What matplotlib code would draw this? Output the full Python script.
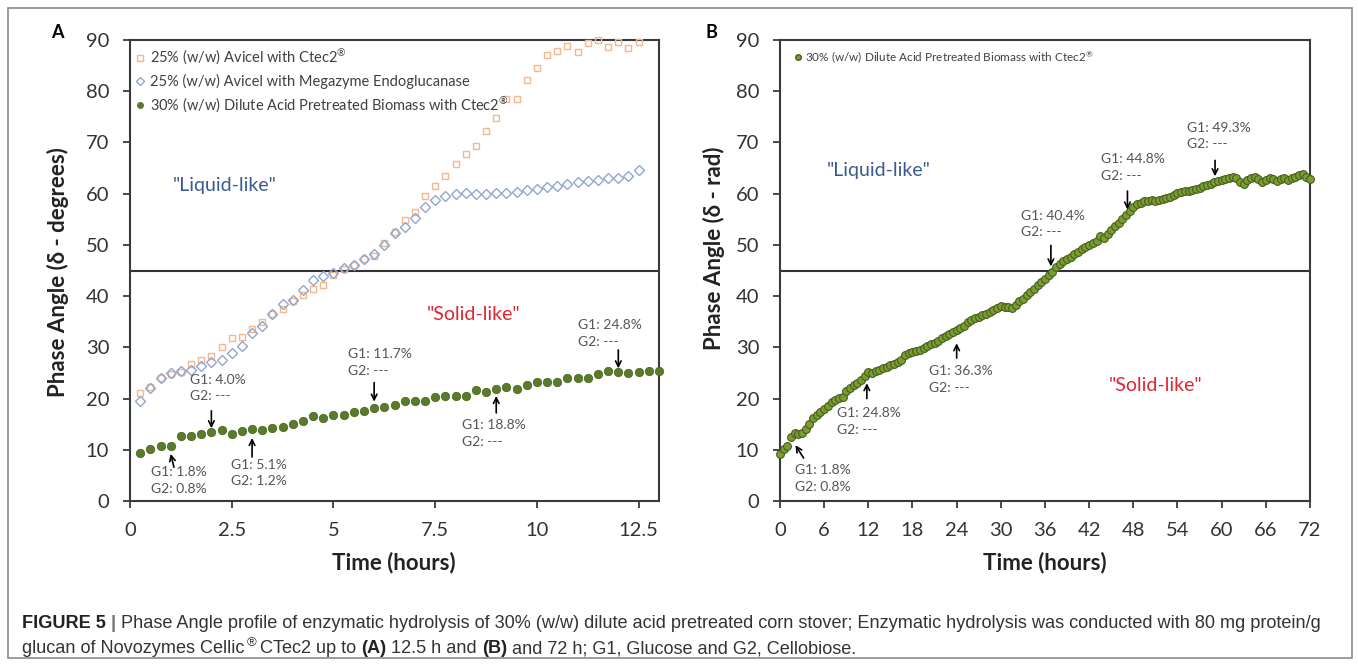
import numpy as np
import matplotlib
matplotlib.use("Agg")
import matplotlib.pyplot as plt
from matplotlib.lines import Line2D
from matplotlib.patches import Rectangle

# ---------------- data ----------------
time_a_avicel = np.arange(0.25, 12.51, 0.25)
avicel_ctec2 = [21.0, 22.3, 24.0, 24.8, 25.2, 26.7, 27.6, 28.4, 30.0, 31.8,
                32.1, 33.5, 35.0, 36.5, 37.4, 39.0, 40.2, 41.3, 42.1, 44.2,
                45.2, 46.0, 47.2, 47.8, 50.4, 52.6, 54.8, 56.4, 59.5, 61.5,
                63.5, 65.7, 67.8, 69.3, 72.2, 74.7, 78.4, 78.4, 82.1, 84.6,
                87.0, 87.8, 88.9, 87.6, 89.5, 90.0, 88.7, 89.7, 88.4, 89.7]
avicel_megazyme = [19.6, 22.1, 24.0, 25.0, 25.3, 25.5, 26.3, 27.1, 27.6, 28.8,
                   30.3, 32.8, 34.2, 36.6, 38.5, 39.2, 41.1, 43.2, 44.0, 44.5,
                   45.4, 46.1, 47.2, 48.3, 49.9, 52.4, 53.5, 55.2, 57.4, 58.8,
                   59.5, 60.0, 60.1, 60.0, 60.0, 60.1, 60.1, 60.4, 60.8, 61.0,
                   61.3, 61.5, 61.8, 62.2, 62.4, 62.7, 63.0, 63.1, 63.5, 64.7]
time_a_biomass = np.arange(0.25, 13.01, 0.25)
biomass_a = [9.3, 10.2, 10.7, 10.7, 12.7, 12.7, 13.1, 13.5, 13.8, 13.1,
             13.7, 14.0, 13.8, 14.2, 14.5, 15.1, 15.7, 16.6, 16.3, 16.8,
             16.7, 17.3, 17.6, 18.1, 18.4, 18.8, 19.5, 19.6, 19.6, 20.3,
             20.5, 20.5, 20.5, 21.6, 21.2, 21.9, 22.3, 21.8, 22.7, 23.3,
             23.3, 23.3, 24.0, 24.1, 24.1, 24.8, 25.3, 25.1, 25.0, 25.1,
             25.4, 25.4]

time_b = np.arange(0.0, 72.01, 0.5)
biomass_b = [9.2, 10.2, 10.7, 12.5, 13.2, 13.0, 13.3, 14.0, 15.0, 16.2,
             16.8, 17.3, 17.9, 18.6, 19.3, 19.8, 20.2, 20.4, 21.4, 22.0,
             22.6, 23.1, 23.7, 24.4, 25.2, 25.0, 25.3, 25.6, 25.9, 26.2,
             26.5, 26.8, 27.2, 27.6, 28.5, 28.9, 29.0, 29.3, 29.5, 29.8,
             30.2, 30.6, 30.9, 31.3, 31.8, 32.2, 32.6, 33.0, 33.3, 33.7,
             34.2, 34.9, 35.3, 35.7, 36.0, 36.3, 36.6, 36.9, 37.2, 37.7,
             38.0, 37.9, 37.8, 37.6, 38.3, 39.0, 39.5, 40.2, 40.9, 41.4,
             42.2, 42.8, 43.4, 44.1, 44.8, 45.6, 46.2, 46.8, 47.3, 47.7,
             48.2, 48.7, 49.1, 49.5, 50.0, 50.3, 50.7, 51.8, 51.3, 52.2,
             53.0, 53.7, 54.3, 55.0, 55.8, 56.6, 57.3, 57.9, 58.2, 58.5,
             58.6, 58.7, 58.6, 58.7, 58.9, 59.2, 59.4, 59.8, 60.1, 60.4,
             60.5, 60.6, 60.8, 61.0, 61.2, 61.4, 61.7, 61.9, 62.2, 62.4,
             62.6, 62.9, 63.1, 63.2, 63.0, 62.2, 61.8, 62.6, 63.1, 63.3,
             62.8, 62.3, 62.7, 63.0, 62.9, 62.5, 62.8, 63.1, 62.7, 63.0,
             63.2, 63.6, 63.8, 63.2, 62.9]

xticks_a = [0, 2.5, 5, 7.5, 10, 12.5]
xticklabels_a = ["0", "2.5", "5", "7.5", "10", "12.5"]
xticks_b = list(range(0, 73, 6))
yticks = list(range(0, 91, 10))
threshold = 45

labels_a = ["25% (w/w) Avicel with Ctec2$^{®}$",
            "25% (w/w) Avicel with Megazyme Endoglucanase",
            "30% (w/w) Dilute Acid Pretreated Biomass with Ctec2$^{®}$"]
label_b = "30% (w/w) Dilute Acid Pretreated Biomass with Ctec2$^{®}$"

# annotations: (text, text_x, text_top_y, arrow_tail, arrow_head)
notes_a = [("G1: 1.8%\nG2: 0.8%", 0.52, 6.8, (1.08, 6.6), (1.0, 9.2)),
           ("G1: 4.0%\nG2: ---", 1.47, 24.8, (2.0, 17.6), (2.0, 14.2)),
           ("G1: 5.1%\nG2: 1.2%", 2.48, 8.2, (3.0, 8.6), (3.0, 12.3)),
           ("G1: 11.7%\nG2: ---", 5.36, 29.8, (6.0, 23.1), (6.0, 19.4)),
           ("G1: 18.8%\nG2: ---", 8.16, 16.0, (9.0, 17.2), (9.0, 20.5)),
           ("G1: 24.8%\nG2: ---", 11.0, 35.5, (12.0, 29.5), (12.0, 25.9))]
notes_b = [("G1: 1.8%\nG2: 0.8%", 2.0, 7.2, (3.2, 8.4), (2.1, 10.9)),
           ("G1: 24.8%\nG2: ---", 7.7, 18.3, (11.8, 20.0), (11.8, 23.0)),
           ("G1: 36.3%\nG2: ---", 20.3, 26.5, (24.0, 27.9), (24.0, 30.8)),
           ("G1: 40.4%\nG2: ---", 32.7, 56.9, (36.8, 49.9), (36.8, 45.8)),
           ("G1: 44.8%\nG2: ---", 43.6, 67.9, (47.2, 60.5), (47.2, 56.9)),
           ("G1: 49.3%\nG2: ---", 55.3, 74.0, (59.1, 66.5), (59.1, 63.4))]

# ---------------- style ----------------
FONT = ["Lato", "DejaVu Sans"]
plt.rcParams["font.family"] = FONT
plt.rcParams["mathtext.fontset"] = "custom"
plt.rcParams["mathtext.rm"] = "Lato"
plt.rcParams["mathtext.it"] = "Lato:italic"
plt.rcParams["mathtext.bf"] = "Lato:bold"

W, H = 1358, 664
fig = plt.figure(figsize=(W / 100, H / 100), dpi=100)

SPINE = "#3a3a3a"
TXT = "#555555"
ORANGE = "#f3b78f"
BLUE = "#92a6cf"
GREEN_A = "#5a7a2c"
GREEN_B_FACE = "#7a9c32"
GREEN_B_EDGE = "#465f1b"


def px_axes(left, top, right, bottom):
    return fig.add_axes([left / W, 1 - bottom / H, (right - left) / W, (bottom - top) / H])


def style_axes(ax, xticks, xlabels):
    ax.set_ylim(0, 90)
    ax.set_yticks(yticks)
    ax.set_xticks(xticks)
    ax.set_xticklabels(xlabels)
    for s in ax.spines.values():
        s.set_color(SPINE)
        s.set_linewidth(1.5)
    ax.tick_params(direction="out", length=5, width=1.3, color=SPINE,
                   labelsize=14.5, labelcolor="#333333")
    ax.tick_params(axis="y", pad=10)
    ax.tick_params(axis="x", pad=10)
    ax.axhline(threshold, color="#333333", lw=1.5, zorder=1)


def add_notes(ax, notes):
    for txt, tx, ty, tail, head in notes:
        ax.text(tx, ty, txt, ha="left", va="top", fontsize=10, color=TXT,
                linespacing=1.45, zorder=5)
        ax.annotate("", xy=head, xytext=tail,
                    arrowprops=dict(arrowstyle="->", color="black", lw=1.2,
                                    mutation_scale=10, shrinkA=0, shrinkB=0),
                    zorder=5)


# ---------------- panel A ----------------
axA = px_axes(130, 40, 659, 501)
style_axes(axA, xticks_a, xticklabels_a)
axA.set_xlim(0, 13)
axA.plot(time_a_avicel, avicel_ctec2, ls="none", marker="s", ms=4.6, mfc="none",
         mec=ORANGE, mew=1.0, clip_on=False, zorder=3)
axA.plot(time_a_avicel, avicel_megazyme, ls="none", marker="D", ms=4.8, mfc="none",
         mec=BLUE, mew=1.0, clip_on=False, zorder=3)
axA.plot(time_a_biomass, biomass_a, ls="none", marker="o", ms=6, mfc=GREEN_A,
         mec="#4d6a22", mew=0.6, clip_on=False, zorder=4)
add_notes(axA, notes_a)
axA.text(1.05, 61.5, '"Liquid-like"', fontsize=14, color="#3b5a8f", va="center")
axA.text(7.3, 36.5, '"Solid-like"', fontsize=14, color="#e02530", va="center")

handles_a = [Line2D([], [], ls="none", marker="s", ms=4, mfc="none", mec=ORANGE, mew=1),
             Line2D([], [], ls="none", marker="D", ms=4, mfc="none", mec=BLUE, mew=1),
             Line2D([], [], ls="none", marker="o", ms=4, mfc=GREEN_A, mec=GREEN_A)]
legA = axA.legend(handles_a, labels_a, loc="upper left", bbox_to_anchor=(0.0, 0.995),
                  frameon=False, fontsize=10.5, handlelength=0.6, handletextpad=0.4,
                  labelspacing=0.45, borderaxespad=0.2, borderpad=0.2)
for t in legA.get_texts():
    t.set_color("#404040")

# ---------------- panel B ----------------
axB = px_axes(780, 40, 1310, 501)
style_axes(axB, xticks_b, [str(v) for v in xticks_b])
axB.set_xlim(0, 72)
axB.plot(time_b, biomass_b, ls="none", marker="o", ms=5.6, mfc=GREEN_B_FACE,
         mec=GREEN_B_EDGE, mew=0.8, clip_on=False, zorder=4)
add_notes(axB, notes_b)
axB.text(6.4, 64.5, '"Liquid-like"', fontsize=14, color="#3b5a8f", va="center")
axB.text(44.6, 22.5, '"Solid-like"', fontsize=14, color="#e02530", va="center")
handles_b = [Line2D([], [], ls="none", marker="o", ms=4, mfc=GREEN_B_FACE, mec=GREEN_B_EDGE)]
legB = axB.legend(handles_b, [label_b], loc="upper left", bbox_to_anchor=(0.02, 0.99),
                  frameon=False, fontsize=8.5, handlelength=0.5, handletextpad=0.3,
                  borderaxespad=0.2, borderpad=0.2)
for t in legB.get_texts():
    t.set_color("#404040")

# ---------------- labels ----------------
def ftext(x, y, s, **kw):
    return fig.text(x / W, 1 - y / H, s, **kw)

ftext(57, 33, "A", fontsize=13, fontweight="bold", ha="center", va="center")
ftext(711, 33, "B", fontsize=13, fontweight="bold", ha="center", va="center")
ftext(58, 272, "Phase Angle (δ - degrees)", fontsize=16, fontweight="bold",
      rotation=90, ha="center", va="center", color="#222222")
ftext(714, 248, "Phase Angle (δ - rad)", fontsize=16, fontweight="bold",
      rotation=90, ha="center", va="center", color="#222222")
ftext(394, 563, "Time (hours)", fontsize=16, fontweight="bold", ha="center",
      va="center", color="#222222")
ftext(1045, 563, "Time (hours)", fontsize=16, fontweight="bold", ha="center",
      va="center", color="#222222")

# outer frame
fig.patches.append(Rectangle((8 / W, 1 - 658 / H), (1352 - 8) / W, (658 - 8) / H,
                             transform=fig.transFigure, fill=False,
                             edgecolor="#8a8a8a", lw=1.2))

# ---------------- caption ----------------
CAP = ["Liberation Sans Narrow", "Liberation Sans", "DejaVu Sans"]
renderer = fig.canvas.get_renderer()


def measure(s, size, weight="normal"):
    t = fig.text(0, 0, s, fontsize=size, fontweight=weight, family=CAP)
    w = t.get_window_extent(renderer).width
    t.remove()
    return w


# (text, weight, colour, superscript)
line1 = [("FIGURE 5", "bold", "#222222", False), ("|", "bold", "#777777", False),
         ("Phase Angle profile of enzymatic hydrolysis of 30% (w/w) dilute acid pretreated "
          "corn stover; Enzymatic hydrolysis was conducted with 80 mg protein/g",
          "normal", "#333333", False)]
line2 = [("glucan of Novozymes Cellic", "normal", "#333333", False),
         ("®", "normal", "#333333", True),
         ("CTec2 up to", "normal", "#333333", False),
         ("(A)", "bold", "#222222", False),
         ("12.5 h and", "normal", "#333333", False),
         ("(B)", "bold", "#222222", False),
         ("and 72 h; G1, Glucose and G2, Cellobiose.", "normal", "#333333", False)]

base = 11.0
space = measure("x x", base) - measure("xx", base)
nat = sum(measure(s, base, w) for s, w, c, sp in line1) + 2 * space
size = base * (1296 / nat)
space = space * size / base


def draw_line(segs, x0, y0):
    x = x0
    for i, (s, w, c, sup) in enumerate(segs):
        nxt_sup = i + 1 < len(segs) and segs[i + 1][3]
        if sup:
            t = ftext(x + 1, y0 - 7, s, fontsize=size * 0.72, fontweight=w, family=CAP,
                      color=c, va="baseline", ha="left")
        else:
            t = ftext(x, y0, s, fontsize=size, fontweight=w, family=CAP, color=c,
                      va="baseline", ha="left")
        x += t.get_window_extent(renderer).width + (1 if nxt_sup else space)


draw_line(line1, 22, 628)
draw_line(line2, 22, 653)

fig.savefig("out.png", dpi=100)
